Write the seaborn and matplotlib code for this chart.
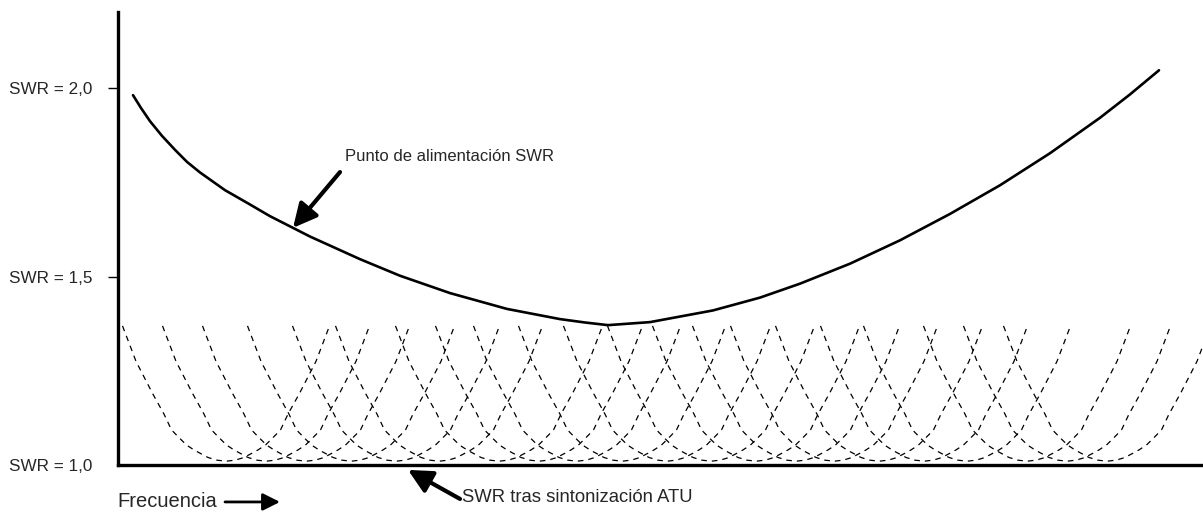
import numpy as np
import pandas as pd
import matplotlib
matplotlib.use("Agg")
import matplotlib.pyplot as plt
import seaborn as sns

# frequency axis in relative units (0 .. 1085), SWR on y
# feed point SWR curve
feed_freq = [15, 23, 32, 44, 57, 69, 82, 107, 132, 152, 175, 192, 212, 242,
             282, 332, 389, 442, 467, 490, 532, 595, 642, 682, 732, 782, 832,
             882, 932, 982, 1012, 1041]
feed_swr = [1.981, 1.947, 1.912, 1.873, 1.836, 1.804, 1.776, 1.729, 1.691,
            1.660, 1.629, 1.606, 1.582, 1.546, 1.502, 1.456, 1.414, 1.387,
            1.378, 1.371, 1.379, 1.410, 1.444, 1.481, 1.534, 1.596, 1.666,
            1.742, 1.827, 1.921, 1.983, 2.047]

# centres of the tuned (ATU) dips
atu_centres = [108, 148, 188, 233, 278, 321, 381, 421, 459, 504, 549, 593,
               638, 678, 716, 761, 806, 849, 909, 949, 989]
# shape of one dip: offset from its centre and SWR
dip_offset = [-103.5, -90, -73.5, -62, -54.5, -46, -39.5, -32, -26.5, -18, -9.5, 0,
              9.5, 18, 26.5, 32, 39.5, 46, 54.5, 62, 73.5, 90, 103.5]
dip_swr = [1.369, 1.275, 1.19, 1.135, 1.093, 1.07, 1.053, 1.04, 1.032, 1.02, 1.013, 1.01,
           1.013, 1.02, 1.032, 1.04, 1.053, 1.07, 1.093, 1.135, 1.19, 1.275, 1.369]

tick_values = [1.0, 1.5, 2.0]
tick_labels = ["SWR = 1,0", "SWR = 1,5", "SWR = 2,0"]

sns.set_style("white")
plt.rcParams['font.family'] = ['Liberation Sans', 'DejaVu Sans']

fig = plt.figure(figsize=(12.03, 5.12), dpi=100)
ax = fig.add_axes([118 / 1203, 47 / 512, 1 - 118 / 1203, 453 / 512])

# dashed dips
rows = []
for i, c in enumerate(atu_centres):
    for o, s in zip(dip_offset, dip_swr):
        rows.append({"curve": i, "freq": c + o, "swr": s})
dips = pd.DataFrame(rows)
for i, grp in dips.groupby("curve"):
    sns.lineplot(data=grp, x="freq", y="swr", ax=ax, color="black",
                 linewidth=0.9, linestyle=(0, (4.5, 4)), sort=False, estimator=None)

# feed point curve
feed = pd.DataFrame({"freq": feed_freq, "swr": feed_swr})
sns.lineplot(data=feed, x="freq", y="swr", ax=ax, color="black", linewidth=1.9,
             sort=False, estimator=None)

ax.set_xlim(0, 1085)
ax.set_ylim(1.0, 2.2016)
ax.set_xlabel("")
ax.set_ylabel("")
ax.set_xticks([])
ax.set_yticks(tick_values)
ax.set_yticklabels(tick_labels, fontsize=12.3)
ax.tick_params(axis="y", length=7.2, width=1.0, pad=11, color="black", left=True)
ax.yaxis.get_major_ticks()[0].tick1line.set_visible(False)

for side in ["top", "right"]:
    ax.spines[side].set_visible(False)
for side in ["left", "bottom"]:
    ax.spines[side].set_linewidth(2.4)
    ax.spines[side].set_color("black")

# annotations
ax.annotate("", xy=(175, 1.629), xytext=(222, 1.777),
            arrowprops=dict(arrowstyle="-|>", lw=3, color="black", mutation_scale=36,
                            shrinkA=0, shrinkB=0))
ax.text(227, 1.817, "Punto de alimentación SWR", fontsize=12, ha="left", va="center")

ax.annotate("", xy=(290, 0.987), xytext=(342, 0.910), annotation_clip=False,
            arrowprops=dict(arrowstyle="-|>", lw=3, color="black", mutation_scale=36,
                            shrinkA=0, shrinkB=0))
ax.text(344, 0.915, "SWR tras sintonización ATU", fontsize=13.3, ha="left", va="center",
        clip_on=False)

ax.text(-1, 0.902, "Frecuencia", fontsize=14.5, ha="left", va="center", clip_on=False)
ax.annotate("", xy=(162, 0.902), xytext=(107, 0.902), annotation_clip=False,
            arrowprops=dict(arrowstyle="-|>", lw=2, color="black", mutation_scale=26,
                            shrinkA=0, shrinkB=0))

fig.savefig("out.png", dpi=100)
